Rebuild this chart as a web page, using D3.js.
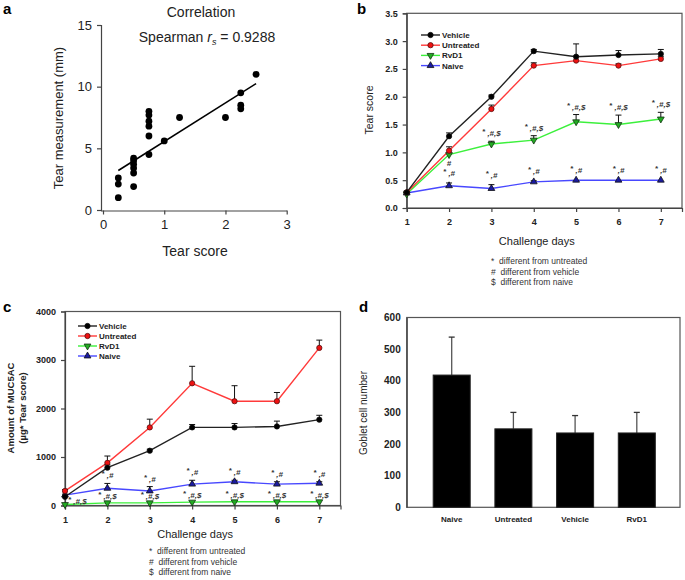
<!DOCTYPE html>
<html><head><meta charset="utf-8">
<script src="https://cdn.jsdelivr.net/npm/d3@7"></script>
<style>
body{margin:0;background:#fff;}
text{font-family:Arial,"Liberation Sans",sans-serif;}
</style></head>
<body><svg id="c" width="685" height="580"></svg>
<script>
// ---------- data ----------
// panel a
const scoreA = [0.25,0.25,0.25,0.5,0.5,0.5,0.5,0.5,0.5,0.75,0.75,0.75,0.75,0.75,0.75,1.0,1.25,2.0,2.25,2.25,2.25,2.5];
const measA  = [1.0,2.1,2.6,1.9,3.0,3.4,3.7,4.0,4.2,8.0,7.7,7.2,6.8,6.0,4.5,5.6,7.5,7.5,9.5,8.5,8.2,11.0];
const fitX = [0.25,2.5];
const fitY = [3.2,10.25];
const ticksA_x = [0,1,2,3];
const ticksA_y = [0,5,10,15];
// panels b,c
const days = [1,2,3,4,5,6,7];
const seriesNames = ["Vehicle","Untreated","RvD1","Naive"];
const tearVehicle = [0.28,1.29,2.00,2.82,2.72,2.75,2.77];
const tearVehicleErr = [0.02,0.06,0.03,0.03,0.23,0.08,0.08];
const tearUntreated = [0.28,1.03,1.78,2.56,2.65,2.56,2.68];
const tearUntreatedErr = [0.02,0.07,0.07,0.05,0.08,0.03,0.04];
const tearRvD1 = [0.25,0.96,1.15,1.22,1.55,1.50,1.60];
const tearRvD1Err = [0.02,0.03,0.05,0.08,0.13,0.17,0.12];
const tearNaive = [0.27,0.40,0.35,0.47,0.50,0.50,0.50];
const tearNaiveErr = [0.02,0.05,0.07,0.02,0,0,0];
const tearRvD1Notes = ["","#","*,#,$","*,#,$","*,#,$","*,#,$","*,#,$"];
const tearNaiveNotes = ["","*,#","*,#","*,#","*,#","*,#","*,#"];
const ticksB_y = [0,0.5,1,1.5,2,2.5,3,3.5];

const mucVehicle = [180,780,1130,1610,1610,1630,1770];
const mucVehicleErr = [30,60,30,60,80,110,90];
const mucUntreated = [300,880,1610,2520,2150,2150,3250];
const mucUntreatedErr = [30,140,170,350,320,180,160];
const mucRvD1 = [20,55,55,70,76,76,76];
const mucRvD1Err = [0,0,0,0,0,0,0];
const mucNaive = [215,355,300,440,490,440,460];
const mucNaiveErr = [20,100,90,80,30,50,30];
const mucRvD1Notes = ["*,#,$","*,#,$","*,#,$","*,#,$","*,#,$","*,#,$","*,#,$"];
const mucNaiveNotes = ["","*,#","*,#","*,#","*,#","*,#","*,#"];
const ticksC_y = [0,1000,2000,3000,4000];

const footnotes = ["*  different from untreated","#  different from vehicle","$  different from naive"];

// panel d
const gobletCats = ["Naive","Untreated","Vehicle","RvD1"];
const gobletVals = [418,248,235,235];
const gobletErr = [120,52,55,65];
const ticksD_y = [0,100,200,300,400,500,600];

// ---------- styles ----------
const colors = {Vehicle:"#222", Untreated:"#ff3a3a", RvD1:"#3cf03c", Naive:"#4848ff"};
const mfill = {Vehicle:"#000", Untreated:"#ee1111", RvD1:"#22aa22", Naive:"#1a1aa0"};
const mshape = {Vehicle:d3.symbolCircle, Untreated:d3.symbolCircle, RvD1:"down", Naive:d3.symbolTriangle};

const svg = d3.select("#c");

function letter(x,y,t){svg.append("text").attr("x",x).attr("y",y).attr("font-size",15).attr("font-weight","bold").text(t);}

function marker(g, name, x, y){
  if (mshape[name]==="down"){
    g.append("path").attr("d", d3.symbol().type(d3.symbolTriangle).size(20)())
     .attr("transform",`translate(${x},${y}) rotate(180)`)
     .attr("fill",mfill[name]).attr("stroke","#113311").attr("stroke-width",0.8);
  } else {
    g.append("path").attr("d", d3.symbol().type(mshape[name]).size(mshape[name]===d3.symbolCircle?22:20)())
     .attr("transform",`translate(${x},${y})`)
     .attr("fill",mfill[name]).attr("stroke", name==="Untreated"?"#551111":"#111").attr("stroke-width",0.8);
  }
}

function styleAxis(g, fs, bold){
  g.selectAll("path,line").attr("stroke","#444").attr("stroke-width",1.2);
  g.selectAll("text").attr("font-size",fs).attr("font-weight",bold?"bold":"normal").attr("fill","#222")
   .attr("font-family","Arial,'Liberation Sans',sans-serif");
}

// ---------- panel a ----------
{
  letter(3,14,"a");
  const x = d3.scaleLinear().domain([0,3]).range([103,286.7]);
  const y = d3.scaleLinear().domain([0,15]).range([210,25]);
  const g = svg.append("g");
  const ya = g.append("g").attr("transform","translate(101,0)")
    .call(d3.axisLeft(y).tickValues(ticksA_y).tickFormat(d3.format("d")).tickSize(4).tickPadding(5));
  styleAxis(ya,13,false);
  const xa = g.append("g").attr("transform","translate(0,210.5)")
    .call(d3.axisBottom(x).tickValues(ticksA_x).tickFormat(d3.format("d")).tickSize(4).tickPadding(5));
  styleAxis(xa,13,false);
  xa.select(".domain").attr("d","M101,0.5H287");
  g.selectAll("circle.pt").data(scoreA.map((s,i)=>[s,measA[i]])).join("circle")
    .attr("cx",d=>x(d[0])).attr("cy",d=>y(d[1])).attr("r",3.4).attr("fill","#000");
  g.append("line").attr("x1",x(fitX[0])).attr("y1",y(fitY[0])).attr("x2",x(fitX[1])).attr("y2",y(fitY[1]))
    .attr("stroke","#000").attr("stroke-width",1.6);
  g.append("text").attr("x",201).attr("y",17).attr("text-anchor","middle").attr("font-size",14).attr("fill","#222").text("Correlation");
  const sp = g.append("text").attr("x",207).attr("y",42).attr("text-anchor","middle").attr("font-size",14).attr("fill","#222");
  sp.append("tspan").text("Spearman ");
  sp.append("tspan").attr("font-style","italic").text("r");
  sp.append("tspan").attr("font-style","italic").attr("font-size",9).attr("dy",3).text("s");
  sp.append("tspan").attr("dy",-3).text(" = 0.9288");
  g.append("text").attr("x",195).attr("y",256).attr("text-anchor","middle").attr("font-size",14).attr("fill","#222").text("Tear score");
  g.append("text").attr("transform","translate(63,118) rotate(-90)").attr("text-anchor","middle").attr("font-size",13).attr("fill","#222").text("Tear measurement (mm)");
}

// ---------- line panel helper ----------
function linePanel(opt){
  const {x0,x1,yTop,yBot,ydom,yticks,yfmt,series,notes,xlabelY,footX,footY,legX,legY,legStep} = opt;
  const x = d3.scaleLinear().domain([1,7.5]).range([x0,x1]);
  const y = d3.scaleLinear().domain(ydom).range([yBot,yTop]);
  const g = svg.append("g");
  g.append("rect").attr("x",x0).attr("y",yTop).attr("width",x1-x0).attr("height",yBot-yTop)
    .attr("fill","none").attr("stroke","#555").attr("stroke-width",1.2);
  const ya = g.append("g").attr("transform",`translate(${x0},0)`)
    .call(d3.axisLeft(y).tickValues(yticks).tickFormat(yfmt).tickSize(4).tickPadding(5));
  styleAxis(ya,9,true);
  const xa = g.append("g").attr("transform",`translate(0,${yBot})`)
    .call(d3.axisBottom(x).tickValues(days).tickFormat(d3.format("d")).tickSize(4).tickPadding(7));
  styleAxis(xa,9,true);
  const order = ["RvD1","Naive","Untreated","Vehicle"];
  order.forEach(name=>{
    const s = series[name];
    g.append("path").datum(days).attr("fill","none").attr("stroke",colors[name]).attr("stroke-width",1.4)
      .attr("d", d3.line().x(d=>x(d)).y((d,i)=>y(s.v[i]))(days));
    days.forEach((d,i)=>{
      if (s.e[i]>0){
        const yt = y(s.v[i]+s.e[i]);
        g.append("line").attr("x1",x(d)).attr("x2",x(d)).attr("y1",y(s.v[i])).attr("y2",yt).attr("stroke","#111").attr("stroke-width",1);
        g.append("line").attr("x1",x(d)-3).attr("x2",x(d)+3).attr("y1",yt).attr("y2",yt).attr("stroke","#111").attr("stroke-width",1);
      }
    });
  });
  order.forEach(name=>{
    const s = series[name];
    days.forEach((d,i)=>marker(g,name,x(d),y(s.v[i])));
  });
  notes.forEach(n=>{
    const s = series[n.name];
    days.forEach((d,i)=>{
      const t = n.txt[i]; if(!t) return;
      let ty = y(s.v[i]+s.e[i]) - (n.off||5), tx = x(d);
      let anchor = "middle";
      if (n.below && n.below[i]) { ty = y(s.v[i]) + 11; }
      if (n.right && n.right[i]) { tx = x(d)+3; ty = y(s.v[i])-1; anchor="start"; }
      const tt = g.append("text").attr("x",tx).attr("y",ty).attr("text-anchor",anchor)
        .attr("font-size",8).attr("font-weight","bold").attr("font-style","italic").attr("fill","#333");
      if (t[0]==="*"){
        tt.append("tspan").attr("dy",-2).text("*");
        tt.append("tspan").attr("dy",2).text(" "+t.slice(1));
      } else tt.text(t);
    });
  });
  seriesNames.forEach((name,i)=>{
    const ly = legY + i*legStep;
    g.append("line").attr("x1",legX).attr("x2",legX+19).attr("y1",ly).attr("y2",ly).attr("stroke",colors[name]).attr("stroke-width",1.4);
    marker(g,name,legX+9.5,ly);
    g.append("text").attr("x",legX+21).attr("y",ly+3).attr("font-size",8).attr("font-weight","bold").attr("fill","#222").text(name);
  });
  g.append("text").attr("x",(x0+x(7))/2+3).attr("y",xlabelY).attr("text-anchor","middle").attr("font-size",11).attr("fill","#222").text("Challenge days");
  footnotes.forEach((f,i)=>{
    g.append("text").attr("x",footX).attr("y",footY+i*10.5).attr("font-size",8.5).attr("fill","#333").attr("xml:space","preserve").text(f);
  });
  return g;
}

// ---------- panel b ----------
{
  letter(357,14,"b");
  const g = linePanel({x0:406.7,x1:682,yTop:13.3,yBot:208,ydom:[0,3.5],yticks:ticksB_y,yfmt:d3.format(".1f"),
    series:{Vehicle:{v:tearVehicle,e:tearVehicleErr},Untreated:{v:tearUntreated,e:tearUntreatedErr},RvD1:{v:tearRvD1,e:tearRvD1Err},Naive:{v:tearNaive,e:tearNaiveErr}},
    notes:[{name:"RvD1",txt:tearRvD1Notes,off:5,below:[0,1,0,0,0,0,0]},{name:"Naive",txt:tearNaiveNotes,off:7}],
    xlabelY:245,footX:491,footY:264,legX:421,legY:35,legStep:10.2});
  g.append("text").attr("transform","translate(373,110) rotate(-90)").attr("text-anchor","middle").attr("font-size",10.5).attr("fill","#222").text("Tear score");
}

// ---------- panel c ----------
{
  letter(3,312,"c");
  const g = linePanel({x0:65,x1:340.5,yTop:311.5,yBot:505.5,ydom:[0,4000],yticks:ticksC_y,yfmt:d3.format("d"),
    series:{Vehicle:{v:mucVehicle,e:mucVehicleErr},Untreated:{v:mucUntreated,e:mucUntreatedErr},RvD1:{v:mucRvD1,e:mucRvD1Err},Naive:{v:mucNaive,e:mucNaiveErr}},
    notes:[{name:"RvD1",txt:mucRvD1Notes,off:4,right:[1,0,0,0,0,0,0]},{name:"Naive",txt:mucNaiveNotes,off:5}],
    xlabelY:538,footX:149,footY:554,legX:78,legY:326,legStep:10});
  const yl = g.append("text").attr("transform","translate(14,408) rotate(-90)").attr("text-anchor","middle").attr("font-size",9.5).attr("font-weight","bold").attr("fill","#222");
  yl.append("tspan").attr("x",0).attr("dy",0).text("Amount of MUC5AC");
  yl.append("tspan").attr("x",0).attr("dy",12).text("(µg* Tear score)");
}

// ---------- panel d ----------
{
  letter(359,312,"d");
  const x = d3.scaleBand().domain(gobletCats).range([420.85,667.65]).paddingInner(0.4).paddingOuter(0.2);
  const y = d3.scaleLinear().domain([0,600]).range([507.3,317.5]);
  const g = svg.append("g");
  g.append("rect").attr("x",406.7).attr("y",317.5).attr("width",680-406.7).attr("height",507.3-317.5)
    .attr("fill","none").attr("stroke","#555").attr("stroke-width",1.2);
  const ya = g.append("g").attr("transform","translate(406.7,0)")
    .call(d3.axisLeft(y).tickValues(ticksD_y).tickSize(0).tickPadding(6));
  styleAxis(ya,10,true);
  gobletCats.forEach((c,i)=>{
    const cx = x(c)+x.bandwidth()/2, yt = y(gobletVals[i]+gobletErr[i]);
    g.append("line").attr("x1",cx).attr("x2",cx).attr("y1",y(gobletVals[i])).attr("y2",yt).attr("stroke","#555").attr("stroke-width",1.3);
    g.append("line").attr("x1",cx-3).attr("x2",cx+3).attr("y1",yt).attr("y2",yt).attr("stroke","#333").attr("stroke-width",1.3);
    g.append("rect").attr("x",x(c)).attr("y",y(gobletVals[i])).attr("width",x.bandwidth()).attr("height",y(0)-y(gobletVals[i]))
      .attr("fill","#000").attr("stroke","#222");
    g.append("text").attr("x",cx).attr("y",522).attr("text-anchor","middle").attr("font-size",8).attr("font-weight","bold").attr("fill","#222").text(c);
  });
  g.append("text").attr("transform","translate(367,413) rotate(-90)").attr("text-anchor","middle").attr("font-size",10).attr("fill","#222").text("Goblet cell number");
}
</script></body></html>
